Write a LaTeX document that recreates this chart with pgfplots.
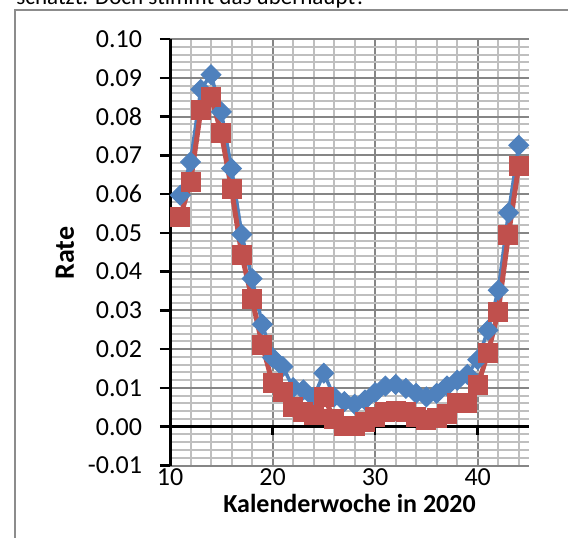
\documentclass[border=0pt]{standalone}
\usepackage{fontspec}
\setmainfont{Carlito}
\usepackage{pgfplots}
\pgfplotsset{compat=1.18}
\definecolor{xlblue}{HTML}{4F81BD}
\definecolor{xlred}{HTML}{C0504D}
\definecolor{majgrid}{HTML}{868686}
\definecolor{mingrid}{HTML}{BFBFBF}
\definecolor{borderc}{HTML}{8C8C8C}
\begin{document}
\begin{tikzpicture}
\useasboundingbox (0,0) rectangle (284bp,269bp);
\node[anchor=base west, inner sep=0pt, font=\fontsize{11.5bp}{14bp}\selectfont] at (8bp,266.5bp) {schätzt. Doch stimmt das überhaupt?};
\draw[color=borderc, line width=0.75bp] (7.5bp,-5bp) -- (7.5bp,264bp) -- (295bp,264bp);
\begin{axis}[
  at={(85bp,36.25bp)}, anchor=south west,
  scale only axis, width=179.5bp, height=213.25bp,
  xmin=10, xmax=45, ymin=-0.01, ymax=0.10,
  axis line style={draw=none},
  xtick={10,20,30,40}, xticklabels={10,20,30,40},
  minor xtick={12,14,16,18,22,24,26,28,32,34,36,38,42,44},
  ytick={-0.01,0,0.01,0.02,0.03,0.04,0.05,0.06,0.07,0.08,0.09,0.10},
  yticklabels={-0.01,0.00,0.01,0.02,0.03,0.04,0.05,0.06,0.07,0.08,0.09,0.10},
  minor y tick num=4,
  grid=both,
  major grid style={draw=majgrid, line width=1bp},
  minor grid style={draw=mingrid, line width=1bp},
  tick align=outside, ytick pos=left, xtick pos=bottom,
  major tick length=5bp, minor tick length=0pt,
  x tick style={draw=none},
  y tick style={black, line width=1.25bp},
  tick label style={font=\fontsize{13bp}{15bp}\selectfont},
  xticklabel style={anchor=center, yshift=-1bp},
  yticklabel style={anchor=east, xshift=-5.5bp},
  scaled y ticks=false,
  clip=false,
]
\draw[black, line width=1.5bp] (axis cs:10,-0.01) -- (axis cs:10,0.10);
\draw[black, line width=1.5bp] (axis cs:10,0) -- (axis cs:45,0);
\draw[black, line width=1.25bp] (axis cs:20,0) -- ([yshift=-4bp]axis cs:20,0);
\draw[black, line width=1.25bp] (axis cs:30,0) -- ([yshift=-4bp]axis cs:30,0);
\draw[black, line width=1.25bp] (axis cs:40,0) -- ([yshift=-4bp]axis cs:40,0);
\addplot[xlblue, line width=1.75bp, mark=square*, mark size=3.5bp,
  mark options={rotate=45, fill=xlblue, draw=xlblue, line width=0.5bp, solid}] coordinates {
(11,0.0597) (12,0.0683) (13,0.0870) (14,0.0908) (15,0.0812) (16,0.0666)
(17,0.0496) (18,0.0382) (19,0.0264) (20,0.0178) (21,0.0155) (22,0.0101)
(23,0.0095) (24,0.0076) (25,0.0138) (26,0.0077) (27,0.0065) (28,0.0058)
(29,0.0069) (30,0.0088) (31,0.0105) (32,0.0109) (33,0.0099) (34,0.0086)
(35,0.0077) (36,0.0086) (37,0.0105) (38,0.0120) (39,0.0135) (40,0.0173)
(41,0.0249) (42,0.0352) (43,0.0552) (44,0.0726)
};
\addplot[xlred, line width=2.5bp, mark=square*, mark size=4.75bp,
  mark options={fill=xlred, draw=xlred, line width=0.5bp, solid}] coordinates {
(11,0.0541) (12,0.0631) (13,0.0816) (14,0.0851) (15,0.0758) (16,0.0612)
(17,0.0443) (18,0.0329) (19,0.0211) (20,0.0112) (21,0.0090) (22,0.0050)
(23,0.0037) (24,0.0030) (25,0.0077) (26,0.0020) (27,0.0003) (28,0.0002)
(29,0.0011) (30,0.0026) (31,0.0039) (32,0.0040) (33,0.0039) (34,0.0026)
(35,0.0017) (36,0.0022) (37,0.0034) (38,0.0060) (39,0.0062) (40,0.0107)
(41,0.0190) (42,0.0297) (43,0.0495) (44,0.0673)
};
\end{axis}
\node[rotate=90, font=\bfseries\fontsize{14bp}{16bp}\selectfont] at (32.5bp,142.5bp) {Rate};
\node[font=\bfseries\fontsize{13bp}{15bp}\selectfont] at (174.75bp,17.5bp) {Kalenderwoche in 2020};
\end{tikzpicture}
\end{document}
